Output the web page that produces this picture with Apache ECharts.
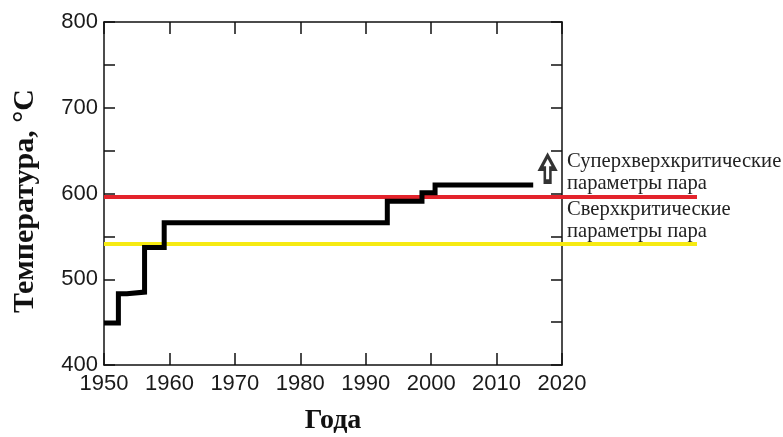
<!DOCTYPE html>
<html>
<head>
<meta charset="utf-8">
<script src="https://cdn.jsdelivr.net/npm/echarts@6/dist/echarts.min.js"></script>
<style>
  html, body { margin: 0; padding: 0; background: #fff; }
  #chart { width: 783px; height: 437px; }
</style>
</head>
<body>
<div id="chart"></div>
<script>
// steam temperature over years (step line)
const stepYears = [1950, 1952.2, 1953.5, 1956.2, 1959.2, 1993.3, 1998.6, 2000.6, 2015.6];
const stepTemps = [449, 483, 485, 537, 566, 591, 601, 610, 610];

// threshold lines (they run past the plot box on the right)
const lineYears = [1950, 2040.7];
const ultraTemp = 596;   // red
const superTemp = 541;   // yellow

// arrow marker
const arrowPoint = [2017.8, 629];

const xTicks = [1950, 1960, 1970, 1980, 1990, 2000, 2010, 2020];
const yTicks = [400, 500, 600, 700, 800];

const ultraText = ['Суперхверхкритические', 'параметры пара'];
const superText = ['Сверхкритические', 'параметры пара'];
const xName = 'Года';
const yName = 'Температура, °С';

const chart = echarts.init(document.getElementById('chart'));

const axisLineStyle = { color: '#111', width: 1.5 };
const sansLabel = { color: '#1a1a1a', fontSize: 22, fontFamily: 'Liberation Sans, Arial, sans-serif' };
const serif = '"Liberation Serif", "Times New Roman", serif';

const option = {
  animation: false,
  grid: [
    { left: 104, right: 221, top: 22, bottom: 72, containLabel: false },
    // wider hidden grid, same scale, so the threshold lines can run out to the text
    { left: 104, right: 86, top: 22, bottom: 72, containLabel: false },
  ],
  xAxis: [
    {
      type: 'value',
      gridIndex: 0,
      min: xTicks[0],
      max: xTicks[xTicks.length - 1],
      interval: 10,
      position: 'bottom',
      axisLine: { lineStyle: axisLineStyle },
      axisTick: { inside: true, length: 12, lineStyle: axisLineStyle },
      axisLabel: { ...sansLabel, margin: 8, formatter: (v) => String(v) },
      splitLine: { show: false },
    },
    {
      type: 'value',
      gridIndex: 0,
      min: xTicks[0],
      max: xTicks[xTicks.length - 1],
      interval: 10,
      position: 'top',
      axisLine: { lineStyle: axisLineStyle },
      axisTick: { inside: true, length: 12, lineStyle: axisLineStyle },
      axisLabel: { show: false },
      splitLine: { show: false },
    },
    {
      type: 'value',
      gridIndex: 1,
      min: lineYears[0],
      max: lineYears[1],
      show: false,
    },
  ],
  yAxis: [
    {
      type: 'value',
      gridIndex: 0,
      min: yTicks[0],
      max: yTicks[yTicks.length - 1],
      interval: 50,
      position: 'left',
      axisLine: { show: true, lineStyle: axisLineStyle },
      axisTick: { show: true, inside: true, length: 11, lineStyle: axisLineStyle },
      axisLabel: {
        ...sansLabel,
        margin: 6,
        formatter: (v) => (yTicks.includes(v) ? String(v) : ''),
      },
      splitLine: { show: false },
    },
    {
      type: 'value',
      gridIndex: 0,
      min: yTicks[0],
      max: yTicks[yTicks.length - 1],
      interval: 50,
      position: 'right',
      axisLine: { show: true, lineStyle: axisLineStyle },
      axisTick: { show: true, inside: true, length: 11, lineStyle: axisLineStyle },
      axisLabel: { show: false },
      splitLine: { show: false },
    },
    {
      type: 'value',
      gridIndex: 1,
      min: yTicks[0],
      max: yTicks[yTicks.length - 1],
      show: false,
    },
  ],
  series: [
    {
      type: 'line',
      xAxisIndex: 2,
      yAxisIndex: 2,
      symbol: 'none',
      data: lineYears.map((x) => [x, superTemp]),
      lineStyle: { color: '#f6ea12', width: 4 },
      z: 2,
    },
    {
      type: 'line',
      xAxisIndex: 2,
      yAxisIndex: 2,
      symbol: 'none',
      data: lineYears.map((x) => [x, ultraTemp]),
      lineStyle: { color: '#e3232b', width: 4 },
      z: 2,
    },
    {
      type: 'line',
      step: 'end',
      symbol: 'none',
      clip: false,
      data: stepYears.map((x, i) => [x, stepTemps[i]]),
      lineStyle: { color: '#000', width: 5, cap: 'butt', join: 'miter' },
      z: 3,
    },
    {
      type: 'scatter',
      clip: false,
      data: [arrowPoint],
      symbol: 'path://M5,0 L10,5 L7,5 L7,10 L3,10 L3,5 L0,5 Z',
      symbolSize: [14, 26],
      itemStyle: { color: '#fff', borderColor: '#000', borderWidth: 3.5 },
      z: 4,
    },
  ],
  graphic: [
    {
      type: 'text',
      left: 567,
      top: 151,
      style: {
        text: ultraText.join('\n'),
        font: '20.6px ' + serif,
        lineHeight: 22,
        fill: '#222',
      },
    },
    {
      type: 'text',
      left: 567,
      top: 199,
      style: {
        text: superText.join('\n'),
        font: '20.6px ' + serif,
        lineHeight: 22,
        fill: '#222',
      },
    },
    {
      type: 'text',
      x: 25,
      y: 201,
      rotation: Math.PI / 2,
      style: {
        text: yName,
        font: 'bold 30px ' + serif,
        fill: '#111',
        align: 'center',
        verticalAlign: 'middle',
      },
    },
    {
      type: 'text',
      x: 333,
      y: 421,
      style: {
        text: xName,
        font: 'bold 28px ' + serif,
        fill: '#111',
        align: 'center',
        verticalAlign: 'middle',
      },
    },
  ],
};

chart.setOption(option);
</script>
</body>
</html>
